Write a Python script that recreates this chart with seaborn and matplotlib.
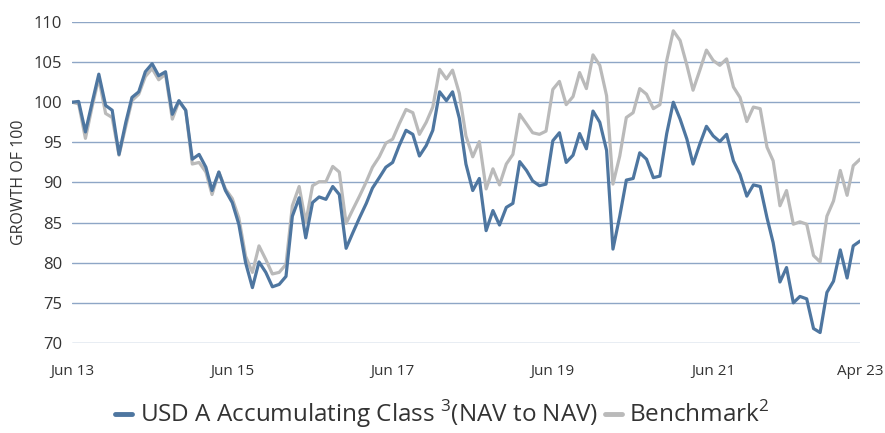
import matplotlib
matplotlib.use("Agg")
import matplotlib.pyplot as plt
import seaborn as sns
import pandas as pd
from matplotlib.lines import Line2D

# monthly growth of 100, Jun 2013 .. Apr 2023
fund = [100.0, 100.1, 96.3, 100.0, 103.5, 99.6, 99.0, 93.5, 97.5, 100.6,
        101.3, 103.8, 104.8, 103.3, 103.8, 98.5, 100.2, 99.0, 92.9, 93.5,
        91.9, 89.0, 91.3, 89.0, 87.5, 84.8, 80.0, 76.9, 80.1, 78.8,
        77.0, 77.3, 78.3, 85.8, 88.1, 83.1, 87.5, 88.2, 87.9, 89.5,
        88.5, 81.8, 83.7, 85.6, 87.4, 89.3, 90.6, 91.9, 92.5, 94.6,
        96.5, 96.0, 93.3, 94.6, 96.5, 101.3, 100.2, 101.3, 98.0, 92.3,
        89.0, 90.5, 84.0, 86.5, 84.7, 86.9, 87.4, 92.6, 91.5, 90.2,
        89.6, 89.8, 95.2, 96.2, 92.5, 93.4, 96.1, 94.2, 98.9, 97.5,
        94.0, 81.7, 85.8, 90.3, 90.5, 93.7, 92.9, 90.6, 90.8, 96.1,
        100.0, 97.9, 95.4, 92.3, 94.8, 97.0, 95.8, 95.1, 96.0, 92.7,
        91.0, 88.3, 89.7, 89.5, 85.6, 82.5, 77.6, 79.4, 75.0, 75.8,
        75.5, 71.8, 71.3, 76.3, 77.7, 81.6, 78.1, 82.1, 82.7]

benchmark = [100.0, 99.8, 95.5, 99.5, 103.0, 98.6, 98.1, 93.4, 97.0, 100.2,
             101.0, 103.2, 104.2, 102.8, 103.5, 97.9, 100.1, 99.0, 92.3, 92.5,
             91.3, 88.5, 91.3, 89.2, 88.0, 85.6, 80.8, 78.8, 82.1, 80.4,
             78.6, 78.8, 79.8, 87.1, 89.5, 85.0, 89.6, 90.1, 90.1, 92.0,
             91.3, 84.9, 86.6, 88.3, 90.1, 91.9, 93.2, 94.9, 95.4, 97.3,
             99.1, 98.7, 96.0, 97.5, 99.4, 104.1, 102.9, 104.0, 101.1, 95.8,
             93.2, 95.1, 89.2, 91.7, 89.7, 92.3, 93.5, 98.5, 97.3, 96.2,
             96.0, 96.4, 101.6, 102.6, 99.7, 100.7, 103.7, 101.7, 105.9, 104.6,
             100.8, 89.8, 93.3, 98.1, 98.7, 101.7, 101.0, 99.2, 99.7, 105.2,
             108.9, 107.7, 104.6, 101.5, 104.0, 106.5, 105.2, 104.6, 105.4, 101.9,
             100.6, 97.6, 99.4, 99.2, 94.4, 92.7, 87.1, 89.0, 84.8, 85.1,
             84.8, 80.9, 80.1, 85.8, 87.7, 91.5, 88.4, 92.1, 92.9]

tick_dates = ["2013-06", "2015-06", "2017-06", "2019-06", "2021-06", "2023-04"]
tick_labels = ["Jun 13", "Jun 15", "Jun 17", "Jun 19", "Jun 21", "Apr 23"]

fund_label = "USD A Accumulating Class $^{3}$(NAV to NAV)"
bench_label = "Benchmark$^{2}$"

dates = pd.period_range("2013-06", periods=len(fund), freq="M").to_timestamp()
df = pd.DataFrame({"date": dates, "fund": fund, "benchmark": benchmark})

sns.set_style("white")
plt.rcParams["font.family"] = ["Open Sans", "DejaVu Sans"]
plt.rcParams["mathtext.fontset"] = "custom"
plt.rcParams["mathtext.rm"] = "Open Sans"

blue = "#4e76a0"
grey = "#bababa"
text_col = "#333333"

fig = plt.figure(figsize=(8.85, 4.33), dpi=100)
ax = fig.add_axes([0.0814, 0.2079, 0.8904, 0.7413])

sns.lineplot(data=df, x="date", y="benchmark", ax=ax, color=grey, linewidth=2.3)
sns.lineplot(data=df, x="date", y="fund", ax=ax, color=blue, linewidth=2.3)

ax.set_ylim(70, 110)
ax.set_yticks(range(70, 111, 5))
ax.set_xlim(dates[0], dates[-1])
ax.set_xticks(pd.to_datetime(tick_dates))
ax.set_xticklabels(tick_labels)

ax.grid(axis="y", color="#8ea6c6", linewidth=1.0)
ax.set_axisbelow(True)
for s in ax.spines.values():
    s.set_visible(False)
ax.tick_params(axis="both", length=0, colors=text_col)
ax.tick_params(axis="x", pad=15, labelsize=11)
ax.tick_params(axis="y", pad=7, labelsize=12)

ax.set_xlabel("")
ax.set_ylabel("GROWTH OF 100", fontsize=11.5, color=text_col, labelpad=5)

handles = [Line2D([], [], color=blue, linewidth=3.5),
           Line2D([], [], color=grey, linewidth=3.5)]
fig.legend(handles, [fund_label, bench_label], loc="center",
           bbox_to_anchor=(0.5, 0.043), ncol=2, frameon=False,
           fontsize=17.5, handlelength=0.7, handletextpad=0.3,
           columnspacing=0.3, labelcolor=text_col)

fig.savefig("out.png", dpi=100)
